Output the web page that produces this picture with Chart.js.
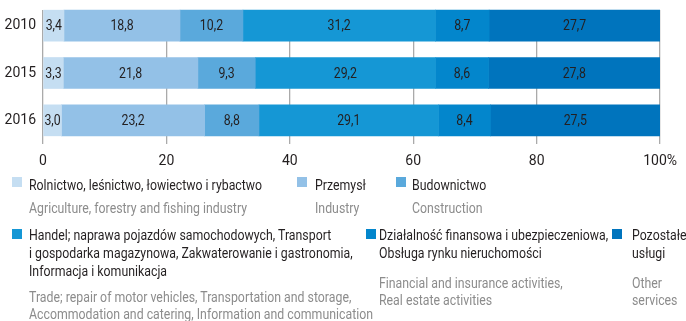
<!DOCTYPE html>
<html>
<head>
<meta charset="utf-8">
<script src="https://cdn.jsdelivr.net/npm/chart.js@4.4.0/dist/chart.umd.min.js"></script>
<style>
	body {
		margin: 0;
		width: 686px;
		height: 321px;
		overflow: hidden;
		position: relative;
		background: #fff;
		font-family: "Roboto", sans-serif;
	}
	#chartBox {
		position: absolute;
		left: 0;
		top: 0;
		width: 686px;
		height: 170px;
	}
	#legend {
		position: absolute;
		left: 0;
		top: 0;
		width: 686px;
		height: 321px;
	}
	.box {
		position: absolute;
		width: 10px;
		height: 10px;
	}
	.pl, .en {
		position: absolute;
		white-space: pre;
		font-size: 14px;
		transform: scaleX(0.88);
		transform-origin: 0 0;
	}
	.pl {
		line-height: 18px;
		color: #231f20;
	}
	.en {
		line-height: 17px;
		color: #8c8c8c;
	}
</style>
</head>
<body>
<div id="chartBox"><canvas id="chart"></canvas></div>
<div id="legend"></div>
<script>
const FONT = '"Roboto", sans-serif';
const NARROW = 0.88;

const years = ['2010', '2015', '2016'];
const xTicks = [0, 20, 40, 60, 80, 100];

// udział sekcji w %
const agriculture = [3.4, 3.3, 3.0];
const industry = [18.8, 21.8, 23.2];
const construction = [10.2, 9.3, 8.8];
const trade = [31.2, 29.2, 29.1];
const finance = [8.7, 8.6, 8.4];
const otherServices = [27.7, 27.8, 27.5];

const namesPl = [
	'Rolnictwo, leśnictwo, łowiectwo i rybactwo',
	'Przemysł',
	'Budownictwo',
	'Handel; naprawa pojazdów samochodowych, Transport\ni gospodarka magazynowa, Zakwaterowanie i gastronomia,\nInformacja i komunikacja',
	'Działalność finansowa i ubezpieczeniowa,\nObsługa rynku nieruchomości',
	'Pozostałe\nusługi'
];
const namesEn = [
	'Agriculture, forestry and fishing industry',
	'Industry',
	'Construction',
	'Trade; repair of motor vehicles, Transportation and storage,\nAccommodation and catering, Information and communication',
	'Financial and insurance activities,\nReal estate activities',
	'Other\nservices'
];
const colors = ['#c5def2', '#93c1e7', '#5aa9dc', '#1597d5', '#0386cc', '#0074bd'];

const series = [agriculture, industry, construction, trade, finance, otherServices];

// legend slots: box x/y, text x, Polish top, English top
const legendSlots = [
	{bx: 12, by: 177, tx: 29, pt: 176, et: 199.5},
	{bx: 297, by: 177, tx: 315, pt: 176, et: 199.5},
	{bx: 396, by: 177, tx: 412, pt: 176, et: 199.5},
	{bx: 12, by: 229, tx: 29, pt: 226, et: 288.5},
	{bx: 366, by: 229, tx: 379, pt: 226, et: 274.5},
	{bx: 612, by: 229, tx: 632, pt: 226, et: 274.5}
];

const fmt = v => v.toFixed(1).replace('.', ',');

// numbers inside each bar segment
const valueLabels = {
	id: 'valueLabels',
	afterDatasetsDraw(chart) {
		const {ctx} = chart;
		ctx.font = '14px ' + FONT;
		ctx.fillStyle = '#231f20';
		ctx.textAlign = 'center';
		ctx.textBaseline = 'middle';
		chart.data.datasets.forEach((ds, i) => {
			chart.getDatasetMeta(i).data.forEach((bar, j) => {
				ctx.save();
				ctx.translate((bar.x + bar.base) / 2, bar.y + 1);
				ctx.scale(NARROW, 1);
				ctx.fillText(fmt(ds.data[j]), 0, 0);
				ctx.restore();
			});
		});
	}
};

// grid lines start at the top edge of the first bar
const gridTrim = {
	id: 'gridTrim',
	beforeDatasetsDraw(chart) {
		const {ctx, chartArea, scales} = chart;
		const firstTop = scales.y.getPixelForValue(0) - 15.5;
		ctx.clearRect(chartArea.left - 2, 0, chartArea.width + 4, firstTop);
	}
};

const buildLegend = () => {
	const legend = document.getElementById('legend');
	namesPl.forEach((name, i) => {
		const slot = legendSlots[i];

		const box = document.createElement('div');
		box.className = 'box';
		box.style.left = slot.bx + 'px';
		box.style.top = slot.by + 'px';
		box.style.background = colors[i];

		const pl = document.createElement('div');
		pl.className = 'pl';
		pl.style.left = slot.tx + 'px';
		pl.style.top = slot.pt + 'px';
		pl.textContent = name;

		const en = document.createElement('div');
		en.className = 'en';
		en.style.left = slot.tx + 'px';
		en.style.top = slot.et + 'px';
		en.textContent = namesEn[i];

		legend.appendChild(box);
		legend.appendChild(pl);
		legend.appendChild(en);
	});
};

Chart.defaults.font.family = FONT;
Chart.defaults.font.size = 14;
Chart.defaults.color = '#231f20';

new Chart(document.getElementById('chart'), {
	type: 'bar',
	data: {
		labels: years,
		datasets: series.map((data, i) => ({
			label: namesPl[i],
			data: data,
			backgroundColor: colors[i],
			borderWidth: 0,
			barThickness: 31
		}))
	},
	options: {
		indexAxis: 'y',
		responsive: true,
		maintainAspectRatio: false,
		animation: false,
		layout: {
			padding: {top: 2, right: 23.5, bottom: 0, left: 0}
		},
		scales: {
			x: {
				stacked: true,
				min: 0,
				max: 100,
				afterBuildTicks: scale => {
					scale.ticks = xTicks.map(v => ({value: v}));
				},
				afterFit: scale => {
					scale.height = 26;
				},
				ticks: {
					padding: 9,
					callback: v => v === 100 ? '100%' : v
				},
				grid: {
					color: '#aaaaaa',
					lineWidth: 1.3,
					drawTicks: false
				},
				border: {display: false}
			},
			y: {
				stacked: true,
				afterFit: scale => {
					scale.width = 43;
					scale.paddingTop = 0;
					scale.paddingBottom = 0;
				},
				ticks: {padding: 7},
				grid: {display: false, drawTicks: false},
				border: {display: false}
			}
		},
		plugins: {
			legend: {display: false},
			tooltip: {enabled: false}
		}
	},
	plugins: [gridTrim, valueLabels]
});

buildLegend();
</script>
</body>
</html>
